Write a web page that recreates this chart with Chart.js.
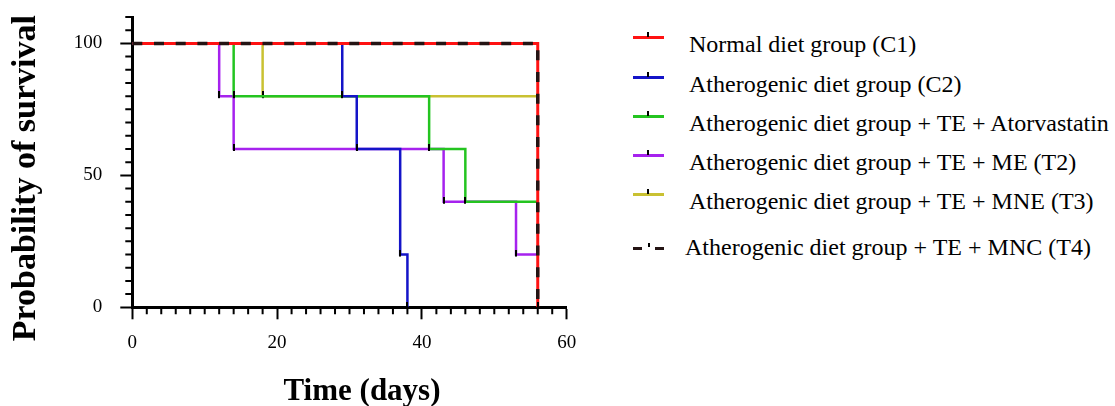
<!DOCTYPE html>
<html lang="en">
<head>
<meta charset="UTF-8">
<title>Probability of survival</title>
<script src="https://cdn.jsdelivr.net/npm/chart.js"></script>
<style>
  body { margin: 0; background: #fff; }
  #wrap { position: relative; width: 1115px; height: 406px; overflow: hidden; font-family: "Liberation Serif", "Times New Roman", serif; }
  #box { position: absolute; left: 0; top: 0; width: 600px; height: 406px; }
  .swatch { position: absolute; height: 3px; }
  .mark { position: absolute; width: 2px; background: #000; }
  .label { position: absolute; font-size: 24px; line-height: 24px; white-space: nowrap; color: #000; }
</style>
</head>
<body>
<div id="wrap">
  <div id="box"><canvas id="kmChart"></canvas></div>
  <div id="legend"></div>
</div>
<script>
// groups and Kaplan-Meier steps (days, % surviving)
const groups = [
  "Normal diet group (C1)",
  "Atherogenic diet group (C2)",
  "Atherogenic diet group + TE + Atorvastatin",
  "Atherogenic diet group + TE + ME (T2)",
  "Atherogenic diet group + TE + MNE (T3)",
  "Atherogenic diet group + TE + MNC (T4)"
];
const colors = ["#ff1212", "#1414c8", "#24c420", "#a622ee", "#c9c132", "#241414"];

const c1Days = [0, 56];
const c1Surv = [100, 0];
const c2Days = [0, 29, 31, 37, 38];
const c2Surv = [100, 80, 60, 20, 0];
const atorDays = [0, 14, 41, 46, 56];
const atorSurv = [100, 80, 60, 40, 40];
const t2Days = [0, 12, 14, 43, 53, 56];
const t2Surv = [100, 80, 60, 40, 20, 20];
const t3Days = [0, 18, 56];
const t3Surv = [100, 80, 80];
const t4Days = [0, 56];
const t4Surv = [100, 0];

const xTicks = [0, 20, 40, 60];
const yTicks = [0, 50, 100];

const allDays = [c1Days, c2Days, atorDays, t2Days, t3Days, t4Days];
const allSurv = [c1Surv, c2Surv, atorSurv, t2Surv, t3Surv, t4Surv];
const drawOrder = [1, 2, 3, 4, 5, 0];

// little black tick used for the step marks
const censor = document.createElement("canvas");
censor.width = 2;
censor.height = 10;
censor.getContext("2d").fillRect(0, 0, 2, 7);

const datasets = groups.map((name, i) => ({
  label: name,
  data: allDays[i].map((d, j) => ({ x: d, y: allSurv[i][j] })),
  stepped: true,
  borderColor: colors[i],
  borderWidth: i === 5 ? 3.5 : (i === 0 ? 3 : 2.5),
  borderDash: i === 5 ? [10, 11.7] : [],
  borderCapStyle: "butt",
  fill: false,
  order: drawOrder[i],
  pointStyle: censor,
  pointRadius: ctx => {
    const s = allSurv[i];
    const k = ctx.dataIndex;
    return (i !== 5 && k > 0 && s[k] !== s[k - 1]) ? 4 : 0;
  }
}));

const minorTicks = {
  id: "minorTicks",
  afterDraw(chart) {
    const { ctx, chartArea, scales } = chart;
    ctx.save();
    ctx.strokeStyle = "#000";
    ctx.lineWidth = 2;
    ctx.beginPath();
    for (let d = 0; d <= 60; d += 2) {
      if (xTicks.includes(d)) continue;
      const px = scales.x.getPixelForValue(d);
      ctx.moveTo(px, chartArea.bottom);
      ctx.lineTo(px, chartArea.bottom + 7);
    }
    for (let p = 0; p <= 110; p += 5) {
      if (yTicks.includes(p)) continue;
      const py = scales.y.getPixelForValue(p);
      ctx.moveTo(chartArea.left - 7, py);
      ctx.lineTo(chartArea.left, py);
    }
    ctx.stroke();

    // axis titles
    ctx.fillStyle = "#000";
    ctx.textAlign = "center";
    ctx.textBaseline = "alphabetic";
    ctx.font = 'bold 31px "Liberation Serif"';
    ctx.fillText("Time (days)", (chartArea.left + chartArea.right) / 2 + 12.5, 400);
    ctx.translate(34.5, (chartArea.top + chartArea.bottom) / 2 + 16);
    ctx.rotate(-Math.PI / 2);
    ctx.font = 'bold 34px "Liberation Serif"';
    ctx.fillText("Probability of survival", 0, 0);
    ctx.restore();
  }
};

const tickFont = { family: "Liberation Serif", size: 19 };

new Chart(document.getElementById("kmChart"), {
  type: "line",
  data: { datasets: datasets },
  options: {
    responsive: true,
    maintainAspectRatio: false,
    animation: false,
    events: [],
    layout: { padding: { left: 0, right: 33.3, top: 17, bottom: 0 } },
    plugins: { legend: { display: false }, tooltip: { enabled: false } },
    scales: {
      x: {
        type: "linear",
        min: 0,
        max: 60,
        afterFit: s => { s.height = 98.7; },
        border: { color: "#000", width: 3 },
        grid: { drawOnChartArea: false, tickLength: 12, tickWidth: 2, tickColor: "#000" },
        ticks: { stepSize: 20, color: "#000", font: tickFont, padding: 12, maxRotation: 0 }
      },
      y: {
        min: 0,
        max: 110,
        afterFit: s => { s.width = 132.3; s.paddingTop = 0; s.paddingBottom = 0; },
        border: { color: "#000", width: 3 },
        grid: { drawOnChartArea: false, tickLength: 12, tickWidth: 2, tickColor: "#000" },
        ticks: { stepSize: 50, includeBounds: false, color: "#000", font: tickFont, padding: 18 }
      }
    }
  },
  plugins: [minorTicks]
});

// legend on the right
const legendY = [37, 77, 116, 155, 194, 248];
const legend = document.getElementById("legend");
groups.forEach((name, i) => {
  const y = legendY[i];
  if (i < 5) {
    legend.insertAdjacentHTML("beforeend",
      `<div class="swatch" style="left:633px;width:31px;top:${y - 1.5}px;background:${colors[i]}"></div>` +
      `<div class="mark" style="left:647px;top:${y - 5}px;height:5px"></div>` +
      `<div class="label" style="left:689px;top:${y + 15 - 20}px">${name}</div>`);
  } else {
    legend.insertAdjacentHTML("beforeend",
      `<div class="swatch" style="left:633px;width:9px;top:${y - 1.5}px;background:${colors[i]}"></div>` +
      `<div class="swatch" style="left:655px;width:9px;top:${y - 1.5}px;background:${colors[i]}"></div>` +
      `<div class="mark" style="left:648px;top:${y - 5}px;height:4px"></div>` +
      `<div class="label" style="left:685px;top:${255 - 20}px">${name}</div>`);
  }
});
</script>
</body>
</html>
